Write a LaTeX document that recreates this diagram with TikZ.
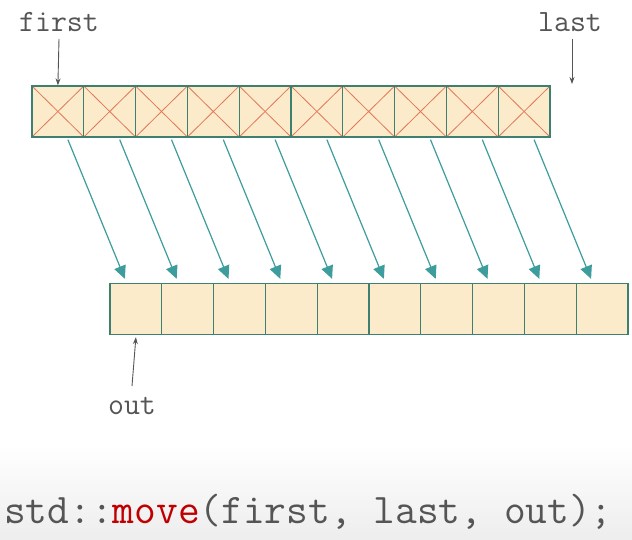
\documentclass[tikz,border=0pt]{standalone}
\usepackage{tikz}
\usetikzlibrary{arrows.meta,positioning}
\definecolor{cellfill}{HTML}{FCEBCA}
\definecolor{celledge}{HTML}{3E8070}
\definecolor{crossline}{HTML}{E0785A}
\definecolor{movearrow}{HTML}{3D9C9C}
\definecolor{labelgray}{HTML}{555555}
\definecolor{fnred}{HTML}{C00000}
\tikzset{
  cellbox/.style = {draw=celledge, fill=cellfill, line width=1.3pt, rectangle, minimum width=51.8pt, minimum height=51pt, inner sep=0pt},
  xcell/.style = {cellbox, path picture={
      \draw[crossline, line width=0.8pt] (path picture bounding box.north west) -- (path picture bounding box.south east);
      \draw[crossline, line width=0.8pt] (path picture bounding box.south west) -- (path picture bounding box.north east);}},
  lbl/.style = {text=labelgray, font=\ttfamily\fontsize{31}{31}\selectfont, inner sep=0pt},
  ptr/.style = {draw=labelgray, line width=0.9pt, -{Stealth[length=7pt,width=5pt]}},
  mv/.style = {draw=movearrow, line width=1.2pt, -{Triangle[length=13pt,width=12pt]}}
}
\begin{document}
\begin{tikzpicture}[x=1pt,y=-1pt]
  \useasboundingbox (0,0) rectangle (632,540);
  % bottom strip
  \shade[top color=white, bottom color=gray!14] (0,445) rectangle (632,540);
  % source and destination ranges
  \foreach \i in {1,...,10} {
    \node[xcell] (s\i) at ({32+51.8*(\i-0.5)},111.5) {};
    \node[cellbox] (d\i) at ({110+51.8*(\i-0.5)},309) {};
  }
  \foreach \i in {1,...,10}
    \draw[mv] ([xshift=10pt,yshift=-2pt]s\i.south) -- ([xshift=-11pt,yshift=4pt]d\i.north);
  % iterators
  \node[lbl] (first) at (59,22) {first};
  \node[lbl] (last) at (570,22) {last};
  \node[lbl] (out) at (132,406) {out};
  \coordinate (lastend) at (572,84);
  \draw[ptr] ([yshift=-7pt]first.south) -- (s1.north);
  \draw[ptr] ([yshift=-7pt]last.south -| lastend) -- (lastend);
  \draw[ptr] ([yshift=11pt]out.north) -- ([yshift=-2pt]d1.south);
  % call
  \node[anchor=west, inner sep=0pt, text=labelgray, font=\ttfamily\fontsize{42.2}{43}\selectfont] (call) at (4,512)
    {std::\textcolor{fnred}{move}(first, last, out);};
\end{tikzpicture}
\end{document}
